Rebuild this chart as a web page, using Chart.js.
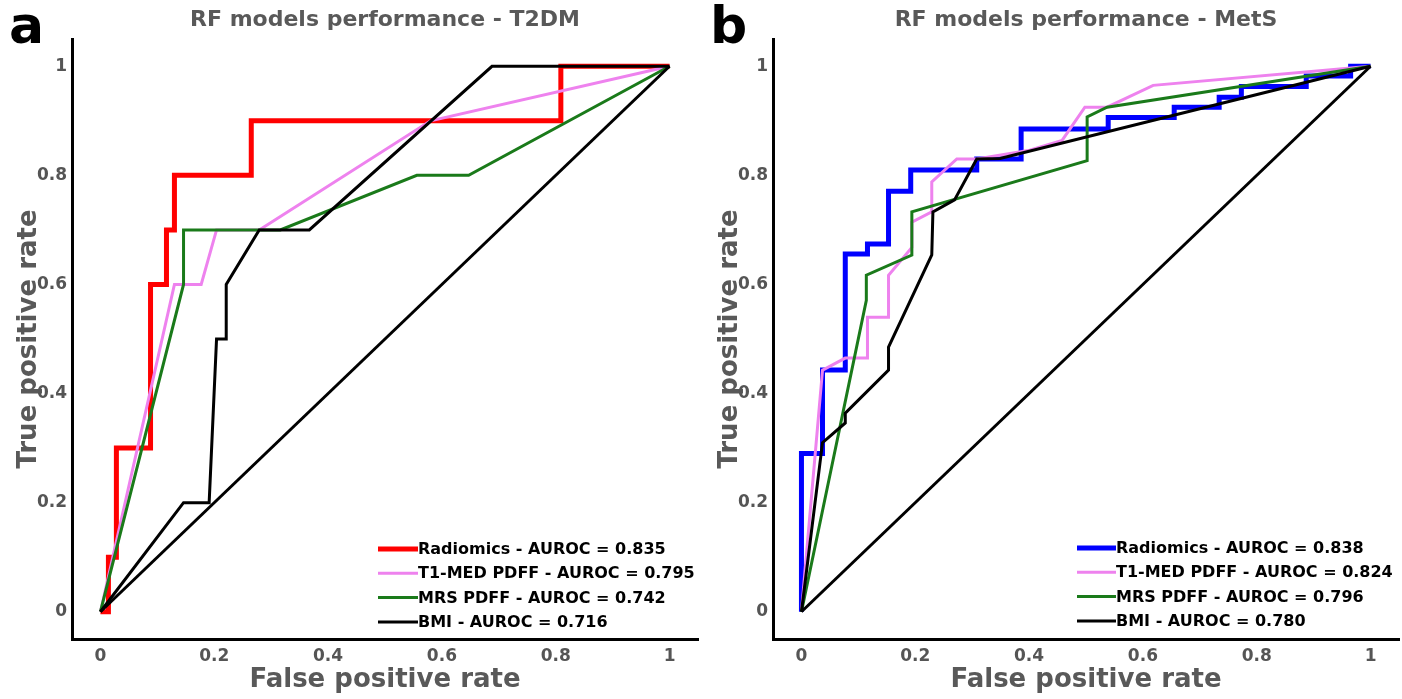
<!DOCTYPE html>
<html><head><meta charset="utf-8">
<script src="https://cdn.jsdelivr.net/npm/chart.js@4/dist/chart.umd.min.js"></script>
<style>
html,body{margin:0;padding:0;background:#fff;}
#wrap{position:relative;width:1402px;height:699px;overflow:hidden;}
.panel{position:absolute;top:0;width:701px;height:699px;}
</style></head><body>
<div id="wrap">
<div class="panel" style="left:0"><canvas id="c1"></canvas></div>
<div class="panel" style="left:701px"><canvas id="c2"></canvas></div>
</div>
<script>
// ---------- data ----------
const xTickValues = [0, 0.2, 0.4, 0.6, 0.8, 1];
const yTickValues = [0, 0.2, 0.4, 0.6, 0.8, 1];

const titleT2DM = "RF models performance - T2DM";
const titleMetS = "RF models performance - MetS";

const legendT2DM = ["Radiomics - AUROC = 0.835", "T1-MED PDFF - AUROC = 0.795", "MRS PDFF - AUROC = 0.742", "BMI - AUROC = 0.716"];
const legendMetS = ["Radiomics - AUROC = 0.838", "T1-MED PDFF - AUROC = 0.824", "MRS PDFF - AUROC = 0.796", "BMI - AUROC = 0.780"];

// T2DM
const t2dmRadiomicsFpr = [0, 0.014, 0.014, 0.028, 0.028, 0.088, 0.088, 0.116, 0.116, 0.13, 0.13, 0.265, 0.265, 0.809, 0.809, 1];
const t2dmRadiomicsTpr = [0, 0, 0.1, 0.1, 0.3, 0.3, 0.6, 0.6, 0.7, 0.7, 0.8, 0.8, 0.9, 0.9, 1, 1];
const t2dmT1Fpr = [0, 0.13, 0.177, 0.204, 0.279, 0.58, 1];
const t2dmT1Tpr = [0, 0.6, 0.6, 0.7, 0.7, 0.9, 1];
const t2dmMrsFpr = [0, 0.146, 0.146, 0.316, 0.556, 0.647, 1];
const t2dmMrsTpr = [0, 0.6, 0.7, 0.7, 0.8, 0.8, 1];
const t2dmBmiFpr = [0, 0.146, 0.191, 0.204, 0.221, 0.221, 0.279, 0.367, 0.688, 1];
const t2dmBmiTpr = [0, 0.2, 0.2, 0.5, 0.5, 0.6, 0.7, 0.7, 1, 1];

// MetS
const metsRadiomicsFpr = [0, 0, 0.037, 0.037, 0.077, 0.077, 0.116, 0.116, 0.153, 0.153, 0.192, 0.192, 0.308, 0.308, 0.386, 0.386, 0.539, 0.539, 0.655, 0.655, 0.734, 0.734, 0.773, 0.773, 0.887, 0.887, 0.965, 0.965, 1];
const metsRadiomicsTpr = [0, 0.29, 0.29, 0.443, 0.443, 0.656, 0.656, 0.674, 0.674, 0.771, 0.771, 0.81, 0.81, 0.83, 0.83, 0.885, 0.885, 0.906, 0.906, 0.925, 0.925, 0.943, 0.943, 0.963, 0.963, 0.982, 0.982, 1, 1];
const metsT1Fpr = [0, 0.037, 0.077, 0.116, 0.116, 0.153, 0.153, 0.194, 0.194, 0.229, 0.229, 0.273, 0.308, 0.401, 0.458, 0.498, 0.537, 0.618, 1];
const metsT1Tpr = [0, 0.443, 0.465, 0.465, 0.54, 0.54, 0.617, 0.668, 0.714, 0.733, 0.788, 0.83, 0.83, 0.846, 0.864, 0.925, 0.925, 0.965, 1];
const metsMrsFpr = [0, 0.114, 0.114, 0.194, 0.194, 0.502, 0.502, 0.537, 1];
const metsMrsTpr = [0, 0.571, 0.617, 0.654, 0.733, 0.827, 0.907, 0.925, 1];
const metsBmiFpr = [0, 0.037, 0.077, 0.077, 0.153, 0.153, 0.229, 0.231, 0.269, 0.308, 0.349, 1];
const metsBmiTpr = [0, 0.31, 0.346, 0.364, 0.443, 0.485, 0.654, 0.733, 0.755, 0.83, 0.831, 1];

const chanceFpr = [0, 1];
const chanceTpr = [0, 1];

// ---------- helpers ----------
const pts = (xs, ys) => xs.map((x, i) => ({x: x, y: ys[i]}));
const FONT = '"DejaVu Sans", "Liberation Sans", sans-serif';

function ds(label, xs, ys, color, width, order, inLegend) {
  return {label: label, data: pts(xs, ys), borderColor: color, backgroundColor: color,
    borderWidth: width, showLine: true, pointRadius: 0, pointHoverRadius: 0, tension: 0,
    fill: false, order: order, inLegend: inLegend, borderJoinStyle: 'miter'};
}

const annotate = {
  id: 'annotate',
  afterDraw(chart, args, opts) {
    const ctx = chart.ctx, ca = chart.chartArea;
    ctx.save();
    ctx.fillStyle = '#595959';
    ctx.font = 'bold 22px ' + FONT;
    ctx.textAlign = 'center'; ctx.textBaseline = 'middle';
    ctx.fillText(opts.title, (ca.left + ca.right) / 2, 20);
    ctx.fillStyle = '#000';
    ctx.font = 'bold 52px ' + FONT;
    ctx.textAlign = 'left'; ctx.textBaseline = 'alphabetic';
    ctx.fillText(opts.letter, opts.letterX, 43);
    // legend
    ctx.font = 'bold 16px ' + FONT;
    ctx.textBaseline = 'middle';
    let row = 0;
    chart.data.datasets.forEach(d => {
      if (!d.inLegend) return;
      const y = opts.legendY + row * 24.3;
      ctx.strokeStyle = d.borderColor;
      ctx.lineWidth = d.borderWidth;
      ctx.beginPath();
      ctx.moveTo(opts.legendX, y);
      ctx.lineTo(opts.legendX + opts.lineLen, y);
      ctx.stroke();
      ctx.fillStyle = '#000';
      ctx.fillText(d.label, opts.legendX + opts.lineLen, y + 1);
      row++;
    });
    ctx.restore();
  }
};

function makeOptions(annot) {
  const tickFont = {family: FONT, size: 17, weight: 'bold'};
  const titleFont = {family: FONT, size: 26, weight: 'bold'};
  return {
    responsive: true, maintainAspectRatio: false, animation: false,
    layout: {padding: {top: 39, right: 3, left: 0, bottom: 0}},
    plugins: {legend: {display: false}, tooltip: {enabled: false}, annotate: annot},
    scales: {
      x: {
        type: 'linear', min: -0.05, max: 1.05,
        grid: {display: false, drawTicks: false},
        border: {display: true, color: '#000', width: 3},
        afterBuildTicks: s => { s.ticks = xTickValues.map(v => ({value: v})); },
        afterFit: s => { s.height = 60; },
        ticks: {color: '#555555', font: tickFont, padding: 7, maxRotation: 0, callback: v => String(v)},
        title: {display: true, text: 'False positive rate', color: '#595959', font: titleFont, padding: {top: 0, bottom: 3}}
      },
      y: {
        type: 'linear', min: -0.05, max: 1.05,
        grid: {display: false, drawTicks: false},
        border: {display: true, color: '#000', width: 3},
        afterBuildTicks: s => { s.ticks = yTickValues.map(v => ({value: v})); },
        afterFit: s => { s.width = 72; },
        ticks: {color: '#555555', font: tickFont, padding: 5, callback: v => String(v)},
        title: {display: true, text: 'True positive rate', color: '#595959', font: titleFont, padding: {top: 14, bottom: 0}}
      }
    }
  };
}

new Chart(document.getElementById('c1'), {
  type: 'scatter',
  data: {datasets: [
    ds(legendT2DM[0], t2dmRadiomicsFpr, t2dmRadiomicsTpr, '#ff0000', 5, 5, true),
    ds(legendT2DM[1], t2dmT1Fpr, t2dmT1Tpr, '#ee82ee', 3, 4, true),
    ds(legendT2DM[2], t2dmMrsFpr, t2dmMrsTpr, '#1a7a1a', 3, 3, true),
    ds(legendT2DM[3], t2dmBmiFpr, t2dmBmiTpr, '#000000', 3, 2, true),
    ds('chance', chanceFpr, chanceTpr, '#000000', 3, 1, false)
  ]},
  options: makeOptions({title: titleT2DM, letter: 'a', letterX: 9, legendX: 378, legendY: 549, lineLen: 40}),
  plugins: [annotate]
});

new Chart(document.getElementById('c2'), {
  type: 'scatter',
  data: {datasets: [
    ds(legendMetS[0], metsRadiomicsFpr, metsRadiomicsTpr, '#0000ff', 5, 5, true),
    ds(legendMetS[1], metsT1Fpr, metsT1Tpr, '#ee82ee', 3, 4, true),
    ds(legendMetS[2], metsMrsFpr, metsMrsTpr, '#1a7a1a', 3, 3, true),
    ds(legendMetS[3], metsBmiFpr, metsBmiTpr, '#000000', 3, 2, true),
    ds('chance', chanceFpr, chanceTpr, '#000000', 3, 1, false)
  ]},
  options: makeOptions({title: titleMetS, letter: 'b', letterX: 9, legendX: 376, legendY: 548, lineLen: 39}),
  plugins: [annotate]
});
</script>
</body></html>
